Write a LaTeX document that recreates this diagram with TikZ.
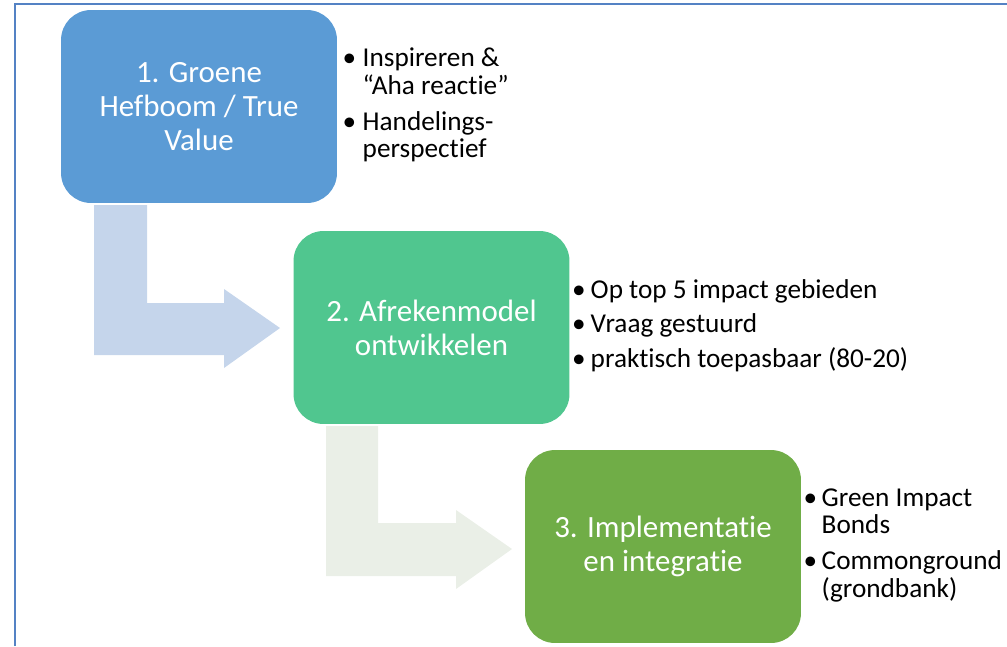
\documentclass[tikz,border=0pt]{standalone}
\usepackage{fontspec}
\setmainfont{Carlito}[Ligatures={TeX,NoCommon}]
\usetikzlibrary{positioning}

\definecolor{stapblauw}{RGB}{91,155,213}
\definecolor{stapgroen}{RGB}{80,198,143}
\definecolor{stapmos}{RGB}{112,173,71}
\definecolor{pijlblauw}{RGB}{197,213,235}
\definecolor{pijlgrijs}{RGB}{234,239,231}
\definecolor{kader}{RGB}{84,130,196}

\tikzset{
  stap/.style={rounded corners=0.6cm, minimum width=5.52cm, minimum height=3.86cm,
    inner sep=0pt, align=center, text=white, font=\fontsize{17.6}{19.4}\selectfont},
  punten/.style={inner sep=0pt, align=left, font=\fontsize{15.5}{15.5}\selectfont},
}

\begin{document}
\begin{tikzpicture}[x=0.02cm,y=-0.02cm]
\useasboundingbox (0,0) rectangle (1007,646);
\draw[kader, line width=1.2pt] (15,646) -- (15,4) -- (1007,4);

% bent arrows between the steps
\fill[pijlblauw] (94,205) -- (147,205) -- (147,303) -- (224,303) -- (224,289) -- (280,328)
  -- (224,368) -- (224,355) -- (94,355) -- cycle;
\fill[pijlgrijs] (326,426) -- (378,426) -- (378,523) -- (456,523) -- (456,510) -- (512,549)
  -- (456,589) -- (456,576) -- (326,576) -- cycle;

\node (s1) at (199,106.5) [stap, fill=stapblauw] {1. Groene\\Hefboom / True\\Value};
\node (s2) at (431.5,327.5) [stap, fill=stapgroen] {2. Afrekenmodel\\ontwikkelen};
\node (s3) at (663,546.5) [stap, fill=stapmos] {3. Implementatie\\en integratie};

\node (p1) [right=0.1cm of s1, punten] {\begin{tabular}{@{}l@{\hspace{0.13cm}}l@{}}
  • & Inspireren \&\\ & “Aha reactie”\\[5pt]
  • & Handelings-\\ & perspectief\end{tabular}};
\node (p2) [right=0.04cm of s2, punten] {\begin{tabular}{@{}l@{\hspace{0.1cm}}l@{}}
  • & Op top 5 impact gebieden\\[4pt]
  • & Vraag gestuurd\\[4pt]
  • & praktisch toepasbaar (80-20)\end{tabular}};
\node (p3) [right=0.04cm of s3, punten] {\begin{tabular}{@{}l@{\hspace{0.09cm}}l@{}}
  • & Green Impact\\ & Bonds\\[5pt]
  • & Commonground\\ & (grondbank)\end{tabular}};
\end{tikzpicture}
\end{document}
